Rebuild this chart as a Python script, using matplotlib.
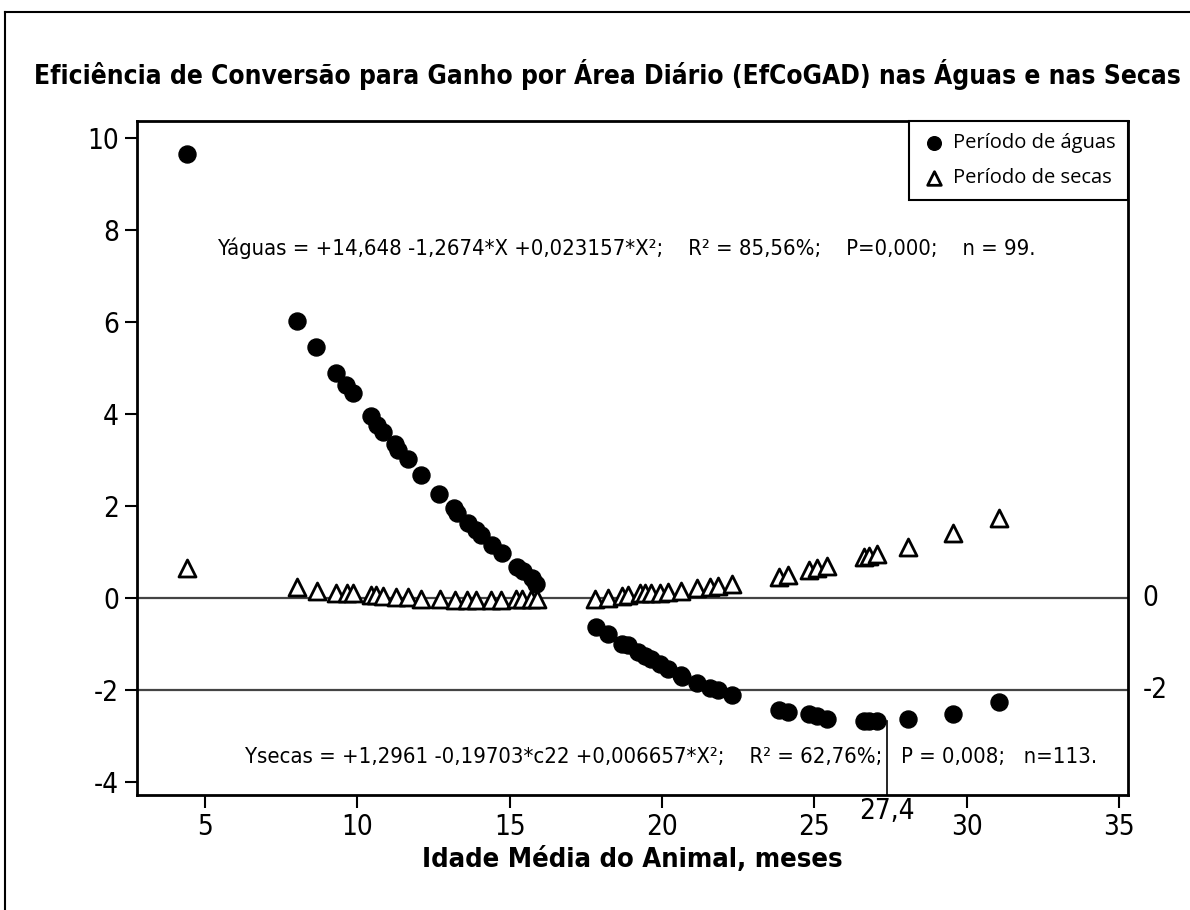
import matplotlib
matplotlib.use("Agg")
import matplotlib.pyplot as plt
from matplotlib.lines import Line2D
import matplotlib.transforms as mtransforms
from matplotlib import font_manager
from matplotlib.font_manager import FontProperties

# ---------------- data ----------------
aguas_x = [4.4, 8.0, 8.65, 9.3, 9.63, 9.85, 10.45, 10.63, 10.85, 11.24,
           11.32, 11.67, 12.07, 12.68, 13.17, 13.28, 13.64, 13.88, 14.04, 14.42,
           14.73, 15.24, 15.42, 15.73, 15.87, 17.83, 18.24, 18.67, 18.89, 19.22,
           19.43, 19.65, 19.92, 20.2, 20.63, 20.66, 21.15, 21.56, 21.83, 22.29,
           23.84, 24.14, 24.83, 25.1, 25.42, 26.64, 26.79, 27.06, 28.06, 29.56, 31.06]
aguas_y = [9.65, 6.02, 5.45, 4.90, 4.63, 4.46, 3.96, 3.76, 3.60, 3.35,
           3.22, 3.03, 2.67, 2.26, 1.95, 1.84, 1.64, 1.49, 1.37, 1.15,
           0.98, 0.68, 0.59, 0.43, 0.30, -0.62, -0.78, -0.99, -1.03, -1.17,
           -1.26, -1.33, -1.43, -1.55, -1.67, -1.72, -1.85, -1.95, -2.00, -2.11,
           -2.43, -2.47, -2.51, -2.57, -2.62, -2.67, -2.67, -2.67, -2.62, -2.52, -2.25]

secas_x = [4.4, 8.0, 8.66, 9.28, 9.64, 9.84, 10.45, 10.6, 10.85, 11.27,
           11.65, 12.1, 12.7, 13.2, 13.6, 13.9, 14.4, 14.7, 15.2, 15.4,
           15.7, 15.9, 17.8, 18.24, 18.67, 18.89, 19.27, 19.43, 19.65, 19.92,
           20.2, 20.63, 21.15, 21.56, 21.83, 22.29, 23.84, 24.14, 24.83, 25.1,
           25.42, 26.64, 26.79, 27.06, 28.06, 29.56, 31.06]
secas_y = [0.65, 0.24, 0.15, 0.11, 0.10, 0.10, 0.07, 0.06, 0.04, 0.03,
           0.02, -0.02, -0.03, -0.04, -0.04, -0.04, -0.04, -0.04, -0.03, -0.03,
           -0.03, -0.03, -0.01, 0.01, 0.04, 0.07, 0.10, 0.12, 0.10, 0.12,
           0.14, 0.16, 0.21, 0.25, 0.26, 0.30, 0.46, 0.50, 0.61, 0.65,
           0.70, 0.90, 0.91, 0.96, 1.12, 1.42, 1.73]

x_ticks = [5, 10, 15, 20, 25, 30, 35]
y_ticks = [10, 8, 6, 4, 2, 0, -2, -4]
ref_lines = [0, -2]
x_min_point = 27.4
x_min_label = "27,4"

title = "Eficiência de Conversão para Ganho por Área Diário (EfCoGAD) nas Águas e nas Secas"
xlabel = "Idade Média do Animal, meses"
eq_aguas = "Yáguas = +14,648 -1,2674*X +0,023157*X²;    R² = 85,56%;    P=0,000;    n = 99."
eq_secas = "Ysecas = +1,2961 -0,19703*c22 +0,006657*X²;    R² = 62,76%;   P = 0,008;   n=113."
legend_labels = ["Período de águas", "Período de secas"]


# ---------------- fonts ----------------
def _w(f):
    w = f.weight
    if isinstance(w, str):
        return 700 if "bold" in w.lower() else 400
    return int(w)


def find_condensed(bold):
    best = None
    for f in font_manager.fontManager.ttflist:
        key = (f.name + " " + f.fname).lower()
        cond = ("narrow" in key or "condensed" in key or "condensed" in str(f.stretch))
        if not cond or "mono" in key:
            continue
        if "serif" in key and "sans" not in key:
            continue
        if f.style != "normal" or "italic" in key or "oblique" in key:
            continue
        if (_w(f) >= 600) != bold:
            continue
        score = 0
        if "liberation" in key:
            score = 3
        elif "dejavu" in key:
            score = 2
        elif "roboto" in key or "open" in key:
            score = 1
        if best is None or score > best[0]:
            best = (score, f.fname)
    return best[1] if best else None


cond_reg = find_condensed(False)
cond_bold = find_condensed(True)
have_cond = cond_reg is not None


def fp_reg(size):
    if cond_reg:
        return FontProperties(fname=cond_reg, size=size)
    return FontProperties(family="Liberation Sans", size=size)


def fp_bold(size):
    if cond_bold:
        return FontProperties(fname=cond_bold, size=size)
    return FontProperties(family="Liberation Sans", weight="bold", size=size)


avail = {f.name for f in font_manager.fontManager.ttflist}
plain = "Open Sans" if "Open Sans" in avail else "DejaVu Sans"

fig = plt.figure(figsize=(11.9, 9.1), dpi=100)
ax = fig.add_axes([137/1190, 1-795/910, (1128-137)/1190, (795-121)/910])

# outer frame (top and left visible)
fig.add_artist(Line2D([5/1190, 1], [1-12/910, 1-12/910], color="black", lw=1.5, transform=fig.transFigure))
fig.add_artist(Line2D([5/1190, 5/1190], [0, 1-12/910], color="black", lw=1.5, transform=fig.transFigure))

for yv in ref_lines:
    ax.axhline(yv, color="#444444", lw=1.6, zorder=1)

ax.plot([x_min_point, x_min_point], [-2.67, -4.28], color="black", lw=1.2, zorder=1)

ax.scatter(aguas_x, aguas_y, s=150, marker="o", color="black", zorder=3,
           label=legend_labels[0])
ax.scatter(secas_x, secas_y, s=150, marker="^", facecolor="white",
           edgecolor="black", linewidth=2, zorder=2, label=legend_labels[1])

ax.set_xlim(2.76, 35.3)
ax.set_ylim(-4.28, 10.37)
ax.set_xticks(x_ticks)
ax.set_yticks(y_ticks)
tick_size = 20
ax.set_xticklabels([str(v) for v in x_ticks], fontproperties=fp_reg(tick_size))
ax.set_yticklabels([str(v) for v in y_ticks], fontproperties=fp_reg(tick_size))
ax.tick_params(axis="both", direction="out", length=9, width=1.5, pad=4)
for sp in ax.spines.values():
    sp.set_linewidth(2)

# right-side labels for reference lines
trans = mtransforms.blended_transform_factory(ax.transAxes, ax.transData)
for yv in ref_lines:
    ax.text(1.015, yv, str(yv), transform=trans, ha="left", va="center",
            fontproperties=fp_reg(tick_size))

# 27,4 label
transx = mtransforms.blended_transform_factory(ax.transData, ax.transAxes)
ax.text(x_min_point, -0.003, x_min_label, transform=transx, ha="center", va="top",
        fontproperties=fp_reg(tick_size))

ax.set_xlabel(xlabel, fontproperties=fp_bold(19.6 if have_cond else 20), labelpad=4)

fig.text(607/1190, 1-75/910, title, ha="center", va="center",
         fontproperties=fp_bold(18.9 if have_cond else 19.8))

eq_size = 15.8 if have_cond else 16.3
ax.text(5.43, 7.6, eq_aguas, ha="left", va="center", fontproperties=fp_reg(eq_size))
ax.text(6.3, -3.46, eq_secas, ha="left", va="center", fontproperties=fp_reg(eq_size))

leg = ax.legend(loc="upper right", borderaxespad=0, fancybox=False, framealpha=1,
                edgecolor="black", prop={"family": plain, "size": 14.5},
                handletextpad=0.3, borderpad=0.6, labelspacing=0.75,
                markerscale=0.8, handlelength=1.3)
leg.get_frame().set_linewidth(1.5)

fig.savefig("out.png", dpi=100)
